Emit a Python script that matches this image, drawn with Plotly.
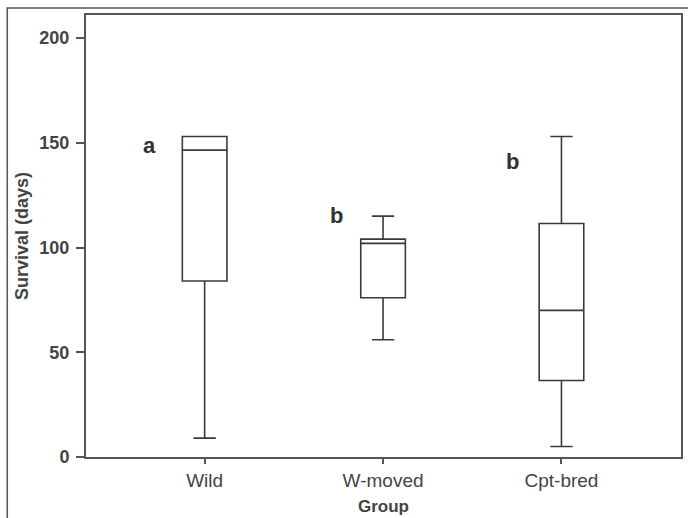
import plotly.graph_objects as go

groups = ["Wild", "W-moved", "Cpt-bred"]
lower = [9, 56, 5]
q1 = [84, 76, 36.5]
median = [146.5, 102, 70]
q3 = [153, 104, 111.5]
upper = [153, 115, 153]

letters = ["a", "b", "b"]
letter_x = [-0.31, 0.74, 1.725]
letter_y = [148.6, 115.2, 141]

ytick_vals = [0, 50, 100, 150, 200]

LINE = "#3a3a3a"
TXT = "#444444"
FONT = "Liberation Sans, Arial, sans-serif"

fig = go.Figure()
fig.add_trace(go.Box(
    x=[0, 1, 2],
    q1=q1, median=median, q3=q3,
    lowerfence=lower, upperfence=upper,
    width=0.25,
    whiskerwidth=0.5,
    fillcolor="white",
    line=dict(color=LINE, width=1.6),
    boxpoints=False,
    showlegend=False,
    hoverinfo="skip",
))

for t, x, y in zip(letters, letter_x, letter_y):
    fig.add_annotation(x=x, y=y, xref="x", yref="y", text=t, showarrow=False,
                       font=dict(family=FONT, size=22, color="#333333", weight="bold"))

# outer figure frame (cropped)
fig.add_shape(type="rect", xref="paper", yref="paper",
              x0=-0.1323, x1=1.05, y0=-0.3, y1=1.0158,
              line=dict(color="#555555", width=1.5), layer="above")

fig.update_layout(
    width=688, height=518,
    margin=dict(l=86, r=5, t=15, b=60),
    paper_bgcolor="white", plot_bgcolor="white",
    font=dict(family=FONT, color=TXT),
    xaxis=dict(
        range=[-0.665, 2.67],
        tickvals=[0, 1, 2], ticktext=groups,
        ticks="outside", ticklen=5, tickwidth=1.5, tickcolor="#555555",
        tickfont=dict(size=19, color=TXT),
        showline=True, linecolor="#555555", linewidth=2, mirror=True,
        showgrid=False, zeroline=False,
        title=dict(text="Group", font=dict(size=17, color=TXT, weight="bold"), standoff=10),
    ),
    yaxis=dict(
        range=[0, 211],
        tickvals=ytick_vals,
        ticks="outside", ticklen=8, tickwidth=1.5, tickcolor="#555555",
        tickfont=dict(size=18, color=TXT, weight="bold"),
        ticklabelstandoff=3,
        showline=True, linecolor="#555555", linewidth=2, mirror=True,
        showgrid=False, zeroline=False,
        title=dict(text="Survival (days)", font=dict(size=18, color=TXT, weight="bold"), standoff=6),
    ),
)

fig.write_html("out.html")
